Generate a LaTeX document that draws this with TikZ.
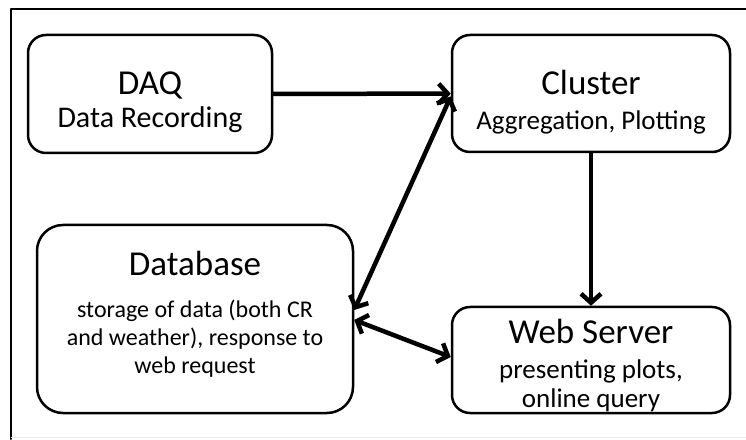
\documentclass[tikz,border=0pt]{standalone}
\usepackage{fontspec}
\setmainfont{Carlito}
\usepackage{pgf,tikz}
\usetikzlibrary{arrows.meta}
\definecolor{ebebeb}{rgb}{0.92,0.92,0.92}
\tikzset{box/.style={draw,line width=2.5pt,rounded corners=18pt,align=center,inner sep=0pt,
  font=\fontsize{27}{34}\selectfont}}
\newcommand{\boxtitle}[2][0pt]{{\fontsize{35}{34}\selectfont\rule{0pt}{#1}#2}}

\begin{document}
\begin{tikzpicture}[line cap=round,line join=round,>={Straight Barb[length=9pt,width=20pt]},x=1.0pt,y=1.0pt]
\useasboundingbox (0,0) rectangle (746,439);
\draw [line width=2pt] (746,430) -- (11,430) -- (11,0);
\draw [color=ebebeb] (11,2) -- (746,2);
\node [box,minimum width=244pt,minimum height=118pt,font=\fontsize{30}{33}\selectfont] (daq) at (150,345) {\boxtitle[40pt]{DAQ}\\Data Recording};
\node [box,minimum width=278pt,minimum height=117pt,font=\fontsize{27}{35}\selectfont] (cluster) at (591,345.5) {\boxtitle[41pt]{Cluster}\\Aggregation, Plotting};
\node [box,minimum width=316pt,minimum height=188pt,rounded corners=26pt,font=\fontsize{24}{28}\selectfont] (db) at (195,120) {\boxtitle{Database}\\[14pt]storage of data (both CR\\and weather), response to\\web request\rule[-13pt]{0pt}{13pt}};
\node [box,minimum width=278pt,minimum height=106pt,font=\fontsize{27}{29.5}\selectfont] (web) at (591,79) {\boxtitle[36pt]{Web Server}\\[5pt]presenting plots,\\online query};
\draw [->,line width=4.5pt] (daq) -- (cluster);
\draw [->,line width=4.5pt] (cluster) -- (web);
\draw [<->,line width=4.5pt] ([yshift=9pt]db.east) -- ([yshift=-3pt]cluster.west);
\draw [<->,line width=4.5pt] ([yshift=-1pt]db.east) -- ([yshift=3pt]web.west);
\end{tikzpicture}
\end{document}
